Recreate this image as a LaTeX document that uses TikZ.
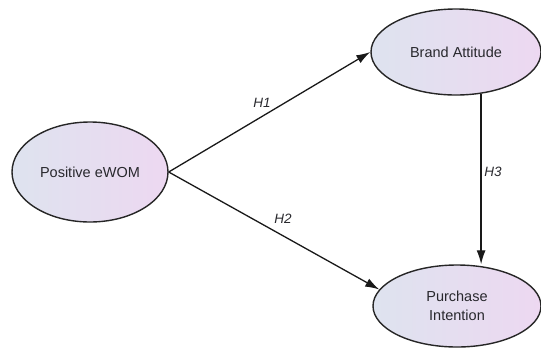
\documentclass[tikz,border=0pt]{standalone}
\usepackage{fontspec}
\setmainfont{Liberation Sans}
\usetikzlibrary{shapes.geometric,arrows.meta}
\definecolor{lc}{RGB}{222,227,239}
\definecolor{rc}{RGB}{237,216,241}
\definecolor{tc}{RGB}{40,40,45}
\tikzset{
  latent/.style={ellipse, draw=black!85, line width=1.4pt, left color=lc, right color=rc,
    inner sep=0pt, text=tc, font=\fontsize{14.5}{19}\selectfont, align=center},
  arr/.style={-{Latex[length=14pt,width=9pt]}, line width=1.3pt, draw=black!90},
  hlab/.style={font=\fontsize{13.5}{15}\selectfont\itshape, text=tc}
}
\begin{document}
\begin{tikzpicture}[x=1pt,y=-1pt]
\useasboundingbox (0,0) rectangle (541,349);
\node[latent, minimum width=156pt, minimum height=100pt] (pe) at (90,172) {Positive eWOM};
\node[latent, minimum width=170pt, minimum height=86pt] (ba) at (456,52) {Brand Attitude};
\node[latent, minimum width=168pt, minimum height=82pt] (pi) at (457,306) {Purchase\\Intention};
\draw[arr] (pe.east) -- (ba.west);
\draw[arr] (pe.east) -- (pi.168);
\draw[arr] (ba.-59) -- (ba.-59 |- pi.north);
\node[hlab] (h1) at (262,103) {H1};
\node[hlab] (h2) at (283,219) {H2};
\node[hlab] (h3) at (493,172) {H3};
\end{tikzpicture}
\end{document}
